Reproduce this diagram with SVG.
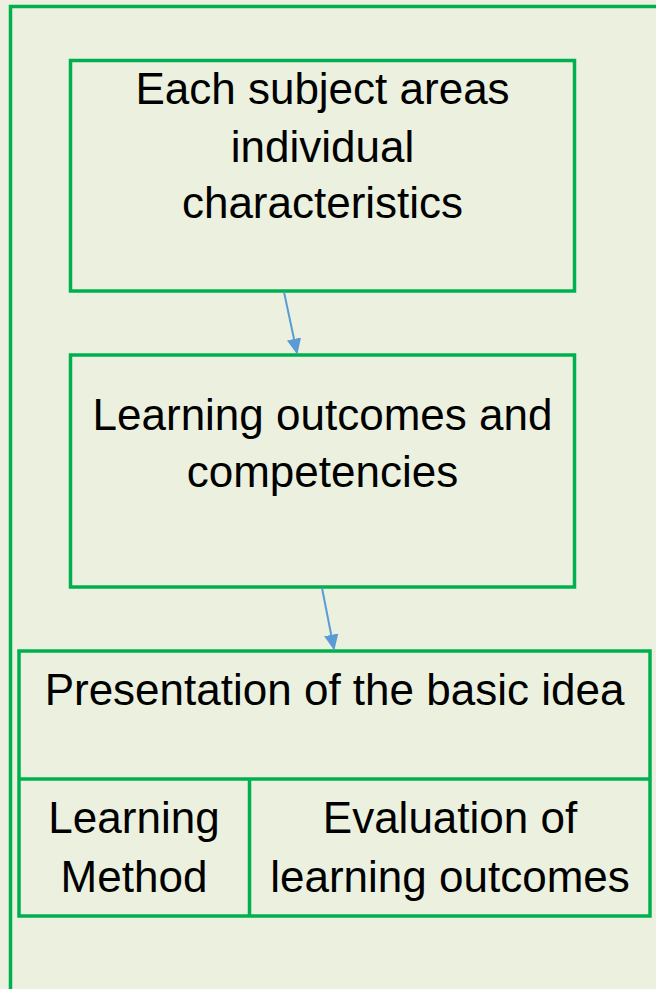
<svg xmlns="http://www.w3.org/2000/svg" width="656" height="989" viewBox="0 0 656 989">
<defs>
<style>
.box{fill:none;stroke:#00B050;stroke-width:3.5}
.t{font-family:"Liberation Sans",Arial,sans-serif;font-size:44px;fill:#000;text-anchor:middle}
.conn{stroke:#5B9BD5;stroke-width:2;fill:none}
</style>
<marker id="ah2" viewBox="0 0 10 10" refX="9" refY="5" markerWidth="16" markerHeight="16" markerUnits="userSpaceOnUse" orient="auto">
<path d="M0,0.5 L10,5 L0,9.5 z" fill="#5B9BD5"/>
</marker>
</defs>
<rect x="0" y="0" width="656" height="989" fill="#EBF1DE"/>
<rect id="frame" x="10.5" y="6.5" width="700" height="1050" fill="none" stroke="#00B050" stroke-width="3.5"/>
<g id="node-subject">
<rect class="box" x="70.5" y="60.5" width="504" height="230.5"/>
<text class="t" x="322.5" y="104">Each subject areas</text>
<text class="t" x="322.5" y="162">individual</text>
<text class="t" x="322.5" y="218">characteristics</text>
</g>
<g id="node-outcomes">
<rect class="box" x="70.5" y="355" width="504" height="232"/>
<text class="t" x="322.5" y="430">Learning outcomes and</text>
<text class="t" x="322.5" y="487">competencies</text>
</g>
<g id="node-presentation">
<rect class="box" x="19" y="651" width="631" height="265"/>
<line class="box" x1="19" y1="779" x2="650" y2="779"/>
<line class="box" x1="249.5" y1="779" x2="249.5" y2="916"/>
<text class="t" x="334.5" y="705">Presentation of the basic idea</text>
</g>
<g id="node-method">
<text class="t" x="134" y="833">Learning</text>
<text class="t" x="134" y="892">Method</text>
</g>
<g id="node-evaluation">
<text class="t" x="450" y="833">Evaluation of</text>
<text class="t" x="450" y="892">learning outcomes</text>
</g>
<g id="connectors">
<line class="conn" x1="284" y1="292" x2="297" y2="353" marker-end="url(#ah2)"/>
<line class="conn" x1="322" y1="588" x2="334" y2="649" marker-end="url(#ah2)"/>
</g>
</svg>
